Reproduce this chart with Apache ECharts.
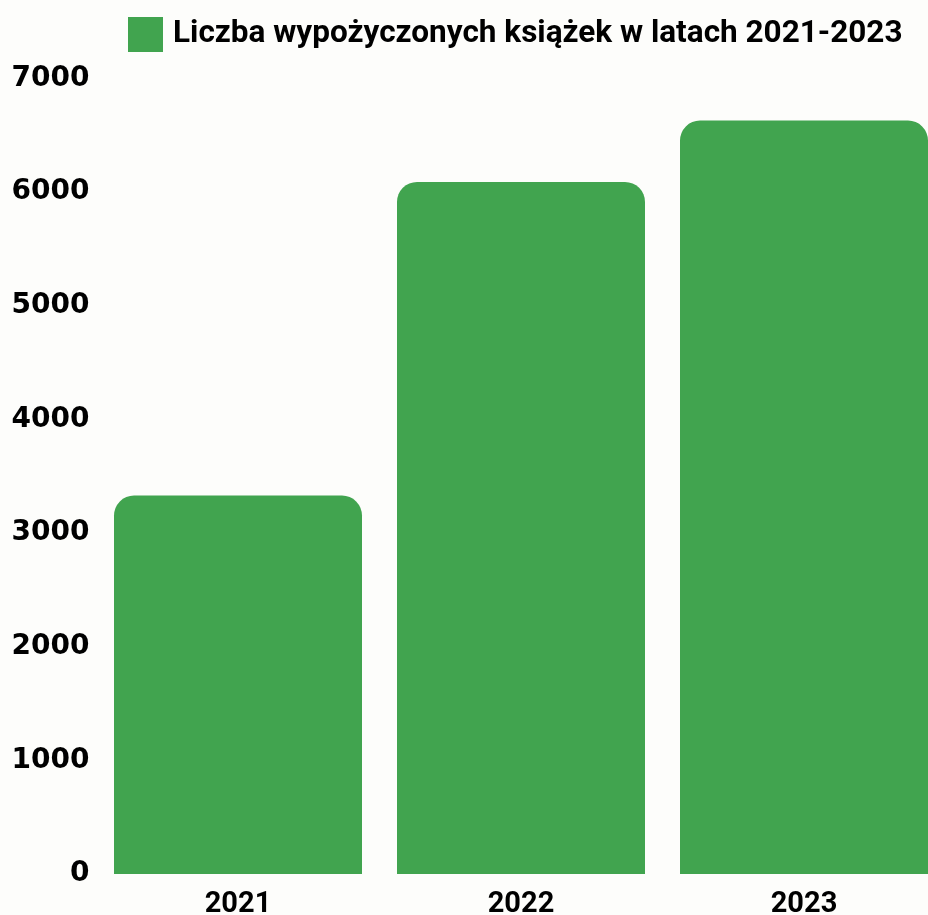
<!DOCTYPE html>
<html>
<head>
<meta charset="utf-8">
<script src="https://cdn.jsdelivr.net/npm/echarts@6/dist/echarts.min.js"></script>
<style>
  html, body { margin: 0; padding: 0; background: #fdfdfb; }
  #chart { width: 928px; height: 915px; }
</style>
</head>
<body>
<div id="chart"></div>
<script>
var chart = echarts.init(document.getElementById('chart'));

var years = ['2021', '2022', '2023'];
var borrowed = [3330, 6090, 6630];
var seriesName = 'Liczba wypożyczonych książek w latach 2021-2023';
var yMin = 0, yMax = 7000, yStep = 1000;

var option = {
    backgroundColor: '#fdfdfb',
    legend: {
        left: 123,
        top: 12,
        itemWidth: 35,
        itemHeight: 35,
        itemGap: 10,
        icon: 'rect',
        textStyle: {
            fontFamily: 'Roboto',
            fontWeight: 'bold',
            fontSize: 31.5,
            color: '#000',
            padding: [0, 0, 0, 5]
        },
        data: [seriesName]
    },
    grid: {
        left: 96.5,
        width: 849,
        top: 78.5,
        bottom: 41,
        containLabel: false,
        outerBoundsMode: 'none'
    },
    xAxis: {
        type: 'category',
        data: years,
        axisLine: { show: false },
        axisTick: { show: false },
        axisLabel: {
            margin: 16,
            fontFamily: 'Roboto',
            fontWeight: 'bold',
            fontSize: 29,
            color: '#000'
        }
    },
    yAxis: {
        type: 'value',
        min: yMin,
        max: yMax,
        interval: yStep,
        axisLine: { show: false },
        axisTick: { show: false },
        splitLine: { show: false },
        axisLabel: {
            margin: 7,
            fontFamily: 'DejaVu Sans',
            fontWeight: 'bold',
            fontSize: 28,
            color: '#000',
            formatter: function (v) { return String(v); }
        }
    },
    series: [{
        name: seriesName,
        type: 'bar',
        barWidth: 248,
        data: borrowed,
        itemStyle: {
            color: '#41a44f',
            borderRadius: [20, 20, 0, 0]
        }
    }]
};

chart.setOption(option);
</script>
</body>
</html>
